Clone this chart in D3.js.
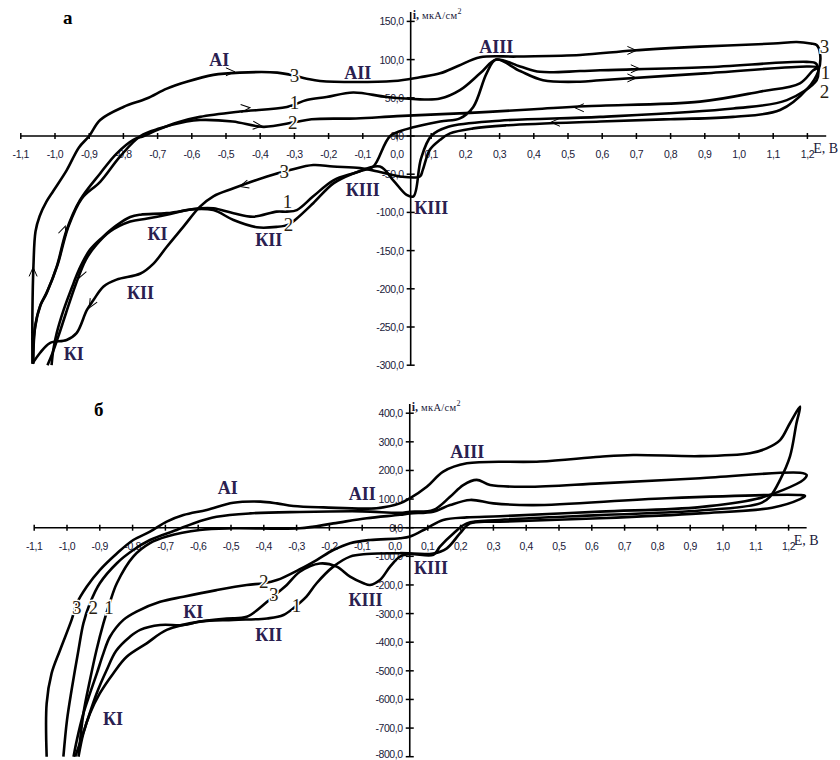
<!DOCTYPE html>
<html>
<head>
<meta charset="utf-8">
<script src="https://cdn.jsdelivr.net/npm/d3@7/dist/d3.min.js"></script>
<style>
  html, body { margin: 0; padding: 0; background: #fff; }
  svg { display: block; }
</style>
</head>
<body>
<svg id="chart" width="840" height="760"></svg>
<script>
// ---------- DATA ----------
const xTickValues = [-1.1,-1.0,-0.9,-0.8,-0.7,-0.6,-0.5,-0.4,-0.3,-0.2,-0.1,0.0,0.1,0.2,0.3,0.4,0.5,0.6,0.7,0.8,0.9,1.0,1.1,1.2];
const topYTicks = [150,100,50,0,-50,-100,-150,-200,-250,-300];
const botYTicks = [400,300,200,100,0,-100,-200,-300,-400,-500,-600,-700,-800];

// Panel "а" : [E, i] pairs along each cycle
const topCurve3 = [[-1.066,-298],[-1.066,-230],[-1.063,-170],[-1.057,-125],[-1.045,-105],[-1.025,-86],[-1.005,-72],[-0.966,-45],[-0.93,-15],[-0.9,0],[-0.868,21],[-0.8,38],[-0.732,49],[-0.673,62],[-0.615,71],[-0.537,80],[-0.46,83],[-0.35,83],[-0.31,80],[-0.264,75],[-0.225,72],[-0.01,72],[0.067,77],[0.126,82],[0.18,92],[0.243,103],[0.35,104],[0.535,106],[0.69,112],[0.886,117],[1.1,121],[1.169,123],[1.21,121],[1.227,119],[1.237,108],[1.232,85],[1.2,62],[1.12,34],[0.983,25],[0.8,22],[0.594,19],[0.32,14],[0.223,10],[0.155,3.5],[0.126,-5],[0.096,-18],[0.075,-45],[0.067,-53],[0.009,-53],[-0.05,-47],[-0.108,-42],[-0.187,-40],[-0.245,-38],[-0.313,-44.5],[-0.38,-53],[-0.478,-68.5],[-0.537,-79],[-0.576,-92.5],[-0.625,-119],[-0.673,-145],[-0.712,-167],[-0.75,-180],[-0.82,-188],[-0.858,-197],[-0.888,-215],[-0.907,-228],[-0.937,-258],[-0.966,-267],[-1.015,-271],[-1.044,-284],[-1.066,-298]];
const topCurve1 = [[-1.064,-298],[-1.06,-255],[-1.044,-223],[-1.025,-206],[-0.995,-171],[-0.966,-123],[-0.927,-84],[-0.868,-49],[-0.82,-23],[-0.771,-5],[-0.74,0],[-0.70,8],[-0.64,18],[-0.576,25],[-0.459,32],[-0.322,38],[-0.264,47],[-0.206,51],[-0.128,57],[-0.03,51],[0.067,48],[0.126,49],[0.184,60],[0.243,82],[0.29,100],[0.36,91],[0.418,84],[0.535,85],[0.594,86],[0.9,90],[1.198,97],[1.225,95],[1.232,85],[1.227,73],[1.14,47],[0.983,36],[0.594,25],[0.3,20],[0.15,12],[0.1,0],[0.07,-30],[0.048,-79],[0.028,-77],[-0.011,-58],[-0.05,-40],[-0.128,-49],[-0.186,-58],[-0.245,-79],[-0.293,-97],[-0.322,-99],[-0.352,-99],[-0.42,-105.6],[-0.478,-101],[-0.537,-94.6],[-0.576,-94.6],[-0.673,-101],[-0.75,-103],[-0.78,-106],[-0.82,-117],[-0.86,-132],[-0.898,-149],[-0.93,-175],[-0.946,-193],[-0.975,-228],[-0.995,-258],[-1.005,-280],[-1.01,-300]];
const topCurve2 = [[-1.064,-298],[-1.058,-250],[-1.042,-221],[-1.022,-203],[-0.992,-168],[-0.962,-120],[-0.922,-82],[-0.868,-60],[-0.81,-27],[-0.75,0],[-0.693,10],[-0.615,19],[-0.576,21],[-0.48,19],[-0.39,12],[-0.3,18],[-0.25,22],[-0.12,23],[0.0,26],[0.2,30],[0.4,35],[0.55,39],[0.886,45],[1.06,58],[1.178,69],[1.217,86],[1.232,90],[1.198,91],[0.9,82],[0.594,73],[0.535,71],[0.427,73],[0.36,85],[0.29,100],[0.262,82],[0.223,38],[0.184,23],[0.126,19],[0.028,9],[-0.02,0],[-0.069,-40],[-0.1,-45],[-0.128,-49],[-0.186,-62],[-0.245,-88],[-0.293,-108],[-0.317,-116],[-0.352,-119],[-0.41,-119.5],[-0.478,-110],[-0.537,-97],[-0.6,-96],[-0.673,-103],[-0.73,-108],[-0.78,-112],[-0.839,-125],[-0.88,-143],[-0.91,-162],[-0.94,-195],[-0.968,-232],[-0.99,-262],[-1.008,-285],[-1.022,-300]];

// Panel "б"
const botCurve3 = [[-1.062,-800],[-1.062,-614],[-1.047,-509],[-1.021,-427],[-0.986,-322],[-0.97,-264],[-0.94,-206],[-0.9,-148],[-0.848,-90],[-0.798,-43],[-0.747,-14],[-0.696,21],[-0.645,44],[-0.574,62],[-0.493,87],[-0.41,91],[-0.36,85],[-0.31,76],[-0.218,71],[-0.056,68],[0.015,85],[0.046,103],[0.097,143],[0.147,196],[0.219,225],[0.442,231],[0.625,248],[0.726,254],[0.93,250],[1.082,260],[1.133,277],[1.174,306],[1.204,365],[1.235,423],[1.224,365],[1.204,248],[1.174,167],[1.143,108],[1.113,85],[0.93,60],[0.625,44],[0.32,27],[0.219,15],[0.178,-20],[0.137,-66],[0.117,-95],[0.046,-92],[0.015,-101],[-0.015,-136],[-0.046,-183],[-0.076,-200],[-0.096,-194],[-0.137,-171],[-0.178,-136],[-0.229,-125],[-0.29,-154],[-0.33,-200],[-0.36,-229],[-0.39,-259],[-0.452,-311],[-0.513,-317],[-0.595,-328],[-0.645,-340],[-0.716,-340],[-0.777,-357],[-0.808,-381],[-0.85,-430],[-0.88,-500],[-0.91,-580],[-0.94,-680],[-0.96,-750],[-0.975,-800]];
const botCurve2 = [[-1.011,-800],[-1.0,-672],[-0.986,-567],[-0.965,-427],[-0.95,-334],[-0.93,-264],[-0.9,-194],[-0.848,-124],[-0.798,-78],[-0.747,-43],[-0.666,-8],[-0.615,15],[-0.544,38],[-0.442,50],[-0.29,55],[-0.1,57],[0.015,52],[0.046,56],[0.117,62],[0.168,108],[0.208,149],[0.249,167],[0.29,149],[0.402,143],[0.625,155],[0.93,173],[1.235,192],[1.255,184],[1.245,167],[1.184,132],[1.1,100],[0.93,72],[0.625,56],[0.32,40],[0.219,36],[0.147,27],[0.097,-2],[0.046,-31],[0.015,-37],[-0.076,-43],[-0.137,-54],[-0.188,-78],[-0.239,-113],[-0.29,-145],[-0.36,-183],[-0.4,-194],[-0.452,-200],[-0.544,-218],[-0.645,-241],[-0.716,-259],[-0.788,-293],[-0.828,-322],[-0.869,-381],[-0.889,-439],[-0.909,-509],[-0.93,-579],[-0.95,-649],[-0.97,-742],[-0.98,-800]];
const botCurve1 = [[-0.965,-800],[-0.95,-649],[-0.93,-532],[-0.91,-427],[-0.889,-334],[-0.87,-264],[-0.848,-194],[-0.798,-101],[-0.747,-54],[-0.696,-31],[-0.595,-8],[-0.493,-2],[-0.29,-2],[-0.188,15],[-0.086,33],[0.015,45],[0.046,50],[0.117,56],[0.168,79],[0.229,97],[0.3,85],[0.422,79],[0.828,103],[1.235,114],[1.25,111],[1.235,100],[1.15,70],[0.93,50],[0.625,33],[0.32,21],[0.229,15],[0.198,-20],[0.158,-72],[0.117,-90],[0.015,-89],[-0.086,-92],[-0.137,-101],[-0.188,-136],[-0.239,-194],[-0.27,-241],[-0.29,-262],[-0.34,-305],[-0.39,-317],[-0.493,-322],[-0.595,-328],[-0.696,-357],[-0.757,-404],[-0.818,-451],[-0.859,-509],[-0.9,-579],[-0.93,-649],[-0.95,-718],[-0.965,-800]];

// Scan-direction arrows on panel "а": [E, i, direction in degrees (screen)]
const topArrows = [[-0.474,84,0],[-0.43,37,-5],[-0.395,13,5],[0.70,112,0],[0.71,88,0],[0.70,76,0],[0.52,37,180],[0.45,18,180],[-0.46,-66,165],[-0.97,-118,-70],[-1.064,-172,-90],[-0.93,-186,115],[-0.9,-225,120]];

// Peak / curve labels: [text, E, i]
const topPeakLabels = [["АI",-0.52,100],["АII",-0.115,82],["АIII",0.29,117],["КIII",-0.1,-71],["КIII",0.1,-94],["КI",-0.7,-128],["КII",-0.375,-136],["КII",-0.75,-205],["КI",-0.945,-285]];
const topNumLabels = [["3",-0.3,78],["1",-0.3,43],["2",-0.305,17],["3",-0.33,-47],["1",-0.32,-86],["2",-0.317,-116],["3",1.25,116],["1",1.253,83],["2",1.25,57]];
const botPeakLabels = [["АI",-0.51,137],["АII",-0.1,118],["АIII",0.22,264],["КIII",0.11,-140],["КIII",-0.09,-252],["КI",-0.615,-295],["КII",-0.385,-375],["КI",-0.86,-670]];
const botNumLabels = [["2",-0.4,-190],["3",-0.37,-235],["1",-0.3,-275],["3",-0.97,-280],["2",-0.92,-280],["1",-0.872,-280]];

// ---------- DRAW ----------
const svg = d3.select("#chart");
svg.append("rect").attr("width",840).attr("height",760).attr("fill","#fff");

const fmt1 = v => (Math.abs(v) < 1e-9 ? "0,0" : d3.format(".1f")(v).replace(".", ",").replace("−","-"));

function panel(cfg) {
  const g = svg.append("g");
  const x = d3.scaleLinear().domain([-1.1, 1.2]).range(cfg.xRange);
  const y = d3.scaleLinear().domain(cfg.yDomain).range(cfg.yRange);
  const x0 = y(0), yAxisX = x(cfg.crossE);

  // x axis line
  g.append("line").attr("x1", x(-1.1)).attr("x2", x(cfg.xEnd)).attr("y1", x0).attr("y2", x0)
    .attr("stroke","#000").attr("stroke-width",1.6);
  g.selectAll(".xt").data(xTickValues).join("line")
    .attr("x1", d => x(d)).attr("x2", d => x(d)).attr("y1", x0-3).attr("y2", x0+3)
    .attr("stroke","#000").attr("stroke-width",1.5);
  g.selectAll(".xl").data(xTickValues).join("text")
    .attr("x", d => x(d)).attr("y", x0 + 22)
    .attr("text-anchor","middle")
    .attr("font-family","Liberation Sans, Arial, sans-serif").attr("font-size",10.5)
    .attr("letter-spacing",-0.4).attr("fill","#1a1a3a")
    .text(d => fmt1(d));
  // y axis
  g.append("line").attr("x1", yAxisX).attr("x2", yAxisX).attr("y1", cfg.yTopPx).attr("y2", y(cfg.yDomain[0]))
    .attr("stroke","#000").attr("stroke-width",1.6);
  g.selectAll(".yt").data(cfg.yTicks).join("line")
    .attr("x1", yAxisX-4).attr("x2", yAxisX+4).attr("y1", d => y(d)).attr("y2", d => y(d))
    .attr("stroke","#000").attr("stroke-width",1.5);
  g.selectAll(".yl").data(cfg.yTicks).join("text")
    .attr("x", yAxisX - 7).attr("y", d => Math.min(y(d) + 4, 758))
    .attr("text-anchor","end")
    .attr("font-family","Liberation Sans, Arial, sans-serif").attr("font-size",10.5)
    .attr("letter-spacing",-0.4).attr("fill","#1a1a3a")
    .text(d => fmt1(d));

  // curves
  const line = d3.line().x(d => x(d[0])).y(d => y(d[1])).curve(d3.curveCatmullRom.alpha(0.5));
  cfg.curves.forEach(c => {
    g.append("path").attr("d", line(c)).attr("fill","none")
      .attr("stroke","#000").attr("stroke-width",2.6).attr("stroke-linejoin","round");
  });

  // direction arrows (small chevrons)
  g.selectAll(".ar").data(cfg.arrows || []).join("path")
    .attr("transform", d => `translate(${x(d[0])},${y(d[1])}) rotate(${d[2]})`)
    .attr("d", "M-9,-4 L0,0 L-9,4")
    .attr("fill","none").attr("stroke","#000").attr("stroke-width",1);

  // number labels with white halo (gap in line)
  g.selectAll(".nl").data(cfg.numLabels).join("text")
    .attr("x", d => x(d[1])).attr("y", d => y(d[2]) + 6)
    .attr("text-anchor","middle")
    .attr("font-family","Liberation Serif, Times New Roman, serif").attr("font-size",19)
    .attr("fill","#2a1e10").attr("stroke","#fff").attr("stroke-width",3).attr("paint-order","stroke")
    .text(d => d[0]);
  // peak labels
  g.selectAll(".pl").data(cfg.peakLabels).join("text")
    .attr("x", d => x(d[1])).attr("y", d => y(d[2]) + 6)
    .attr("text-anchor","middle")
    .attr("font-family","Liberation Serif, Times New Roman, serif").attr("font-size",18)
    .attr("font-weight","bold").attr("fill","#2a2050")
    .text(d => d[0]);

  // axis titles
  const yt = g.append("text").attr("x", yAxisX + 2).attr("y", cfg.yTopPx + 7)
    .attr("font-family","Liberation Serif, Times New Roman, serif").attr("fill","#1a1a3a");
  yt.append("tspan").attr("font-size",12).attr("font-weight","bold").text("i, ");
  yt.append("tspan").attr("font-size",10.5).attr("letter-spacing",0.3).text("мкА/см");
  yt.append("tspan").attr("font-size",8).attr("dy",-5).text("2");
  g.append("text").attr("x", x(cfg.xEnd) - 13).attr("y", x0 + 17)
    .attr("font-family","Liberation Serif, Times New Roman, serif").attr("font-size",14)
    .attr("fill","#1a1a3a").text("Е, В");
  g.append("text").attr("x", cfg.letterPos[0]).attr("y", cfg.letterPos[1])
    .attr("font-family","Liberation Serif, Times New Roman, serif").attr("font-size",19)
    .attr("font-weight","bold").attr("fill","#000").text(cfg.letter);
}

panel({
  xRange: [20.8, 807.4], yDomain: [-300, 150], yRange: [365.2, 21.4],
  crossE: 0.04, xEnd: 1.255, yTopPx: 12, yTicks: topYTicks,
  curves: [topCurve1, topCurve2, topCurve3], arrows: topArrows,
  numLabels: topNumLabels, peakLabels: topPeakLabels,
  letter: "а", letterPos: [63, 24]
});
panel({
  xRange: [34.2, 788.6], yDomain: [-800, 400], yRange: [756.7, 413.2],
  crossE: 0.045, xEnd: 1.255, yTopPx: 404, yTicks: botYTicks,
  curves: [botCurve1, botCurve2, botCurve3], arrows: [],
  numLabels: botNumLabels, peakLabels: botPeakLabels,
  letter: "б", letterPos: [94, 416]
});
</script>
</body>
</html>
